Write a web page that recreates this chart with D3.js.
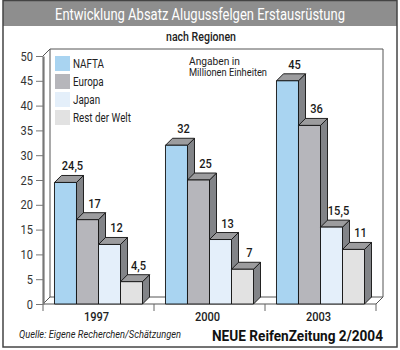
<!DOCTYPE html>
<html>
<head>
<meta charset="utf-8">
<script src="https://d3js.org/d3.v7.min.js"></script>
<style>
  body { margin: 0; background: #fff; }
  svg { display: block; font-family: "Roboto", "Liberation Sans", sans-serif; }
</style>
</head>
<body>
<div id="chart"></div>
<script>
/* DATA */
const years = ["1997", "2000", "2003"];
const regions = ["NAFTA", "Europa", "Japan", "Rest der Welt"];
const nafta = [24.5, 32, 45];
const europa = [17, 25, 36];
const japan = [12, 13, 15.5];
const rest = [4.5, 7, 11];
const yTicks = [0, 5, 10, 15, 20, 25, 30, 35, 40, 45, 50];

const series = [nafta, europa, japan, rest];
const colors = ["#a9d4f1", "#b6b6bb", "#e4effa", "#e2e2e2"];

const width = 400, height = 350;
const margin = {top: 56, bottom: 46, left: 43, right: 24};
const dx = 7, dy = 7;

const fmt = v => String(v).replace(".", ",");

// squeeze text horizontally, the original uses a condensed face
function condense(sel, k) {
  sel.each(function() {
    const len = this.getComputedTextLength();
    d3.select(this).attr("textLength", len * k).attr("lengthAdjust", "spacingAndGlyphs");
  });
  return sel;
}
function fitTo(sel, w) {
  return sel.attr("textLength", w).attr("lengthAdjust", "spacingAndGlyphs");
}

const svg = d3.select("#chart").append("svg")
  .attr("width", width)
  .attr("height", height);

// scales
const yScale = d3.scaleLinear()
  .domain([0, 50])
  .range([height - margin.bottom, margin.top]);

const xScale = d3.scaleBand()
  .domain(years)
  .range([margin.left, width - margin.right])
  .paddingInner(0.207)
  .paddingOuter(0.1035);

const xInner = d3.scaleBand()
  .domain(regions)
  .range([0, xScale.bandwidth()]);

const y0 = yScale(0), yTop = yScale(50);
const xL = margin.left, xR = width - margin.right;

// frame + title band
svg.append("rect")
  .attr("x", 3).attr("y", 1).attr("width", 394).attr("height", 25)
  .attr("fill", "#8e8e8e");
svg.append("rect")
  .attr("x", 3).attr("y", 0.5).attr("width", 394).attr("height", 346.5)
  .attr("fill", "none").attr("stroke", "#444").attr("stroke-width", 1.5);

fitTo(svg.append("text")
  .attr("x", 200).attr("y", 20)
  .attr("text-anchor", "middle")
  .attr("fill", "#fff")
  .attr("font-size", 16.5)
  .text("Entwicklung Absatz Alugussfelgen Erstausrüstung"), 290);

fitTo(svg.append("text")
  .attr("x", 201).attr("y", 41)
  .attr("text-anchor", "middle")
  .attr("fill", "#222")
  .attr("font-size", 12.5).attr("font-weight", 500)
  .text("nach Regionen"), 70);

// back wall and floor
const wall = svg.append("g").attr("fill", "none").attr("stroke", "#555").attr("stroke-width", 1);
wall.append("path")
  .attr("d", `M${xL + dx},${y0 - dy} V${yTop - dy} H${xR + dx} V${y0 - dy} Z`)
  .attr("fill", "#fff");
wall.append("path")
  .attr("d", `M${xL},${yTop} L${xL + dx},${yTop - dy} M${xL},${y0} L${xL + dx},${y0 - dy} M${xL},${y0} H${xR} L${xR + dx},${y0 - dy}`);

// x ticks at group boundaries
const bounds = [xL, ...years.map(y => xScale(y) + xScale.bandwidth() + xScale.step() * xScale.paddingInner() / 2)];
svg.selectAll(".xtick")
  .data(bounds)
  .join("line")
  .attr("class", "xtick")
  .attr("x1", d => d).attr("x2", d => d)
  .attr("y1", y0).attr("y2", y0 + 7)
  .attr("stroke", "#666");

// y axis
const yAxis = d3.axisLeft(yScale).tickValues(yTicks).tickSize(7).tickSizeOuter(0).tickPadding(3);
const yAxisGroup = svg.append("g")
  .attr("transform", `translate(${xL},0)`)
  .call(yAxis);
yAxisGroup.select(".domain").attr("stroke", "#777").attr("stroke-width", 2.2);
yAxisGroup.selectAll(".tick line").attr("stroke", "#777");
condense(yAxisGroup.selectAll(".tick text")
  .attr("font-size", 13).attr("fill", "#333")
  .attr("font-family", "Roboto, sans-serif"), 0.85);

// legend
const legend = svg.append("g").attr("transform", "translate(55,56)");
regions.forEach((r, i) => {
  legend.append("rect")
    .attr("x", 0).attr("y", i * 18)
    .attr("width", 15).attr("height", 15)
    .attr("fill", colors[i]);
  condense(legend.append("text")
    .attr("x", 18).attr("y", i * 18 + 11.5)
    .attr("font-size", 12).attr("fill", "#222")
    .text(r), 0.82);
});

["Angaben in", "Millionen Einheiten"].forEach((t, i) => {
  fitTo(svg.append("text")
    .attr("x", 189).attr("y", 64.5 + i * 11.5)
    .attr("font-size", 11).attr("fill", "#222")
    .text(t), i === 0 ? 51 : 78);
});

// bars
years.forEach((yr, gi) => {
  const g = svg.append("g").attr("transform", `translate(${xScale(yr)},0)`);
  regions.forEach((r, si) => {
    const v = series[si][gi];
    const x0 = xInner(r), x1 = x0 + xInner.bandwidth();
    const yv = yScale(v);
    const bar = g.append("g").attr("stroke", "#111").attr("stroke-width", 0.9).attr("stroke-linejoin", "round");
    bar.append("path")
      .attr("d", `M${x1},${yv} L${x1 + dx},${yv - dy} V${y0 - dy} L${x1},${y0} Z`)
      .attr("fill", "#828488");
    bar.append("path")
      .attr("d", `M${x0},${yv} L${x0 + dx},${yv - dy} H${x1 + dx} L${x1},${yv} Z`)
      .attr("fill", "#9c9c9e");
    bar.append("rect")
      .attr("x", x0).attr("y", yv)
      .attr("width", x1 - x0).attr("height", y0 - yv)
      .attr("fill", colors[si]);
    condense(g.append("text")
      .attr("x", (x0 + x1) / 2 + dx)
      .attr("y", yv - dy - 5)
      .attr("text-anchor", "middle")
      .attr("font-size", 13.5).attr("font-weight", 500).attr("fill", "#1a1a1a")
      .text(fmt(v)), 0.82);
  });
  condense(svg.append("text")
    .attr("x", xScale(yr) + xScale.bandwidth() / 2 - 2)
    .attr("y", 321)
    .attr("text-anchor", "middle")
    .attr("font-size", 13.5).attr("font-weight", 500).attr("fill", "#222")
    .text(yr), 0.82);
});

// footer
fitTo(svg.append("text")
  .attr("x", 19).attr("y", 338)
  .attr("font-size", 11.5).attr("font-style", "italic").attr("fill", "#222")
  .text("Quelle: Eigene Recherchen/Schätzungen"), 162);

fitTo(svg.append("text")
  .attr("x", 212).attr("y", 341)
  .attr("font-size", 14).attr("font-weight", "bold").attr("fill", "#111")
  .text("NEUE ReifenZeitung 2/2004"), 171);
</script>
</body>
</html>
